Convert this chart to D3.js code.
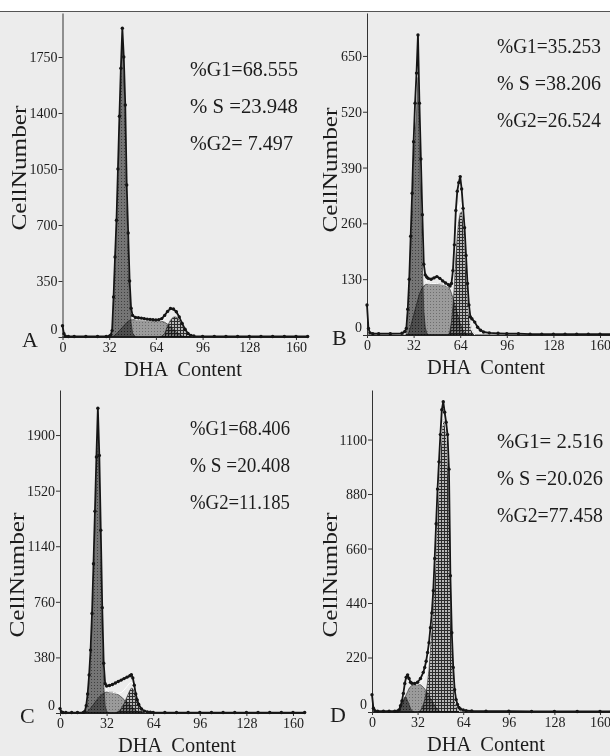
<!DOCTYPE html>
<html><head><meta charset="utf-8">
<script src="https://cdn.jsdelivr.net/npm/d3@7"></script>
<style>
html,body{margin:0;padding:0;background:#fff;}
svg{display:block;}
text{font-family:"Liberation Serif","Times New Roman",serif;fill:#1c1c1c;}
</style></head><body>
<svg id="c" width="610" height="756"></svg>
<script>
// ---------- DATA ----------
const xTicks = [0, 32, 64, 96, 128, 160];

// Panel A
const chA  = [0,1,2,4,8,16,24,30,32, 33,34,35,36,37,38,39,40,41,42,43,44,45,46,47,48, 50,52,54,56,58,60,62,64,66,68,70,72,74,76,78,80,82,84,86,88,90, 96,104,112,120,128,136,144,152,160,168];
const totA = [70,20,5,3,3,3,3,3,5, 12,40,250,500,730,1050,1380,1680,1930,1750,1450,950,650,350,180,135, 122,120,118,115,112,110,108,106,108,115,135,160,178,175,158,125,85,48,22,10,6, 4,4,3,3,3,3,3,3,3,3];
const g1A  = [0,0,0,0,0,0,0,0,0, 5,35,240,480,700,1010,1330,1620,1860,1670,1360,850,540,240,90,25, 0,0,0,0,0,0,0,0,0,0,0,0,0,0,0,0,0,0,0,0,0, 0,0,0,0,0,0,0,0,0,0];
const sA   = [0,0,0,0,0,0,0,0,0, 0,0,5,12,20,30,40,50,60,70,80,90,98,104,107,108, 108,108,107,106,105,104,103,102,100,98,92,80,64,46,30,16,6,0,0,0,0, 0,0,0,0,0,0,0,0,0,0];
const g2A  = [0,0,0,0,0,0,0,0,0, 0,0,0,0,0,0,0,0,0,0,0,0,0,0,0,0, 0,0,0,0,0,0,0,0,0,5,20,70,105,125,125,105,75,45,20,7,0, 0,0,0,0,0,0,0,0,0,0];
const yTicksA = [0,350,700,1050,1400,1750];
const statsA = ["%G1=68.555","% S =23.948","%G2= 7.497"];

// Panel B
const chB  = [0,1,2,4,8,16,24,26, 27,28,29,30,31,32,33,34,35,36,37,38,39,40,41,42, 44,46,48,50,52,54,56, 57,58,59,60,61,62,63,64,65,66,67,68,69,70,71,72, 74,76,78,80,84,90,96,104,112,120,128,136,144,152,160,168];
const totB = [70,15,5,3,3,3,4,8, 15,60,130,230,330,450,540,610,699,540,410,280,165,140,135,132, 130,133,136,132,126,121,117, 114,120,150,210,290,335,355,369,340,295,250,185,120,70,42,38, 30,18,11,7,5,4,3,3,2,2,2,2,2,2,2,2];
const g1B  = [0,0,0,0,0,0,0,0, 15,58,125,210,295,395,465,515,600,440,300,165,55,18,5,0, 0,0,0,0,0,0,0, 0,0,0,0,0,0,0,0,0,0,0,0,0,0,0,0, 0,0,0,0,0,0,0,0,0,0,0,0,0,0,0,0];
const sB   = [0,0,0,0,0,0,0,0, 0,0,8,20,33,45,58,70,83,95,103,110,114,117,118,119, 120,120,120,119,118,116,112, 106,97,86,74,62,50,38,27,18,10,5,2,0,0,0,0, 0,0,0,0,0,0,0,0,0,0,0,0,0,0,0,0];
const g2B  = [0,0,0,0,0,0,0,0, 0,0,0,0,0,0,0,0,0,0,0,0,0,0,0,0, 0,0,0,0,0,0,0, 10,30,65,115,180,230,265,283,287,265,220,165,100,52,25,10, 0,0,0,0,0,0,0,0,0,0,0,0,0,0,0,0];
const yTicksB = [0,130,260,390,520,650];
const statsB = ["%G1=35.253","% S =38.206","%G2=26.524"];

// Panel C
const chC  = [0,1,2,4,8,12,16, 17,18,19,20,21,22,23,24,25,26,27,28,29,30,31,32, 34,36,38,40,42,44,46,48, 49,50,51,52,53,54, 56,58,60,62,64, 72,80,88,96,104,112,120,128,136,144,152,160,168];
const totC = [30,8,3,3,3,3,4, 10,50,130,260,430,680,1020,1380,1750,2083,1760,1250,720,340,200,185, 188,195,205,215,225,235,245,255, 262,240,190,130,90,60, 28,13,8,5,4, 3,3,3,3,3,3,3,3,3,3,3,3,3];
const g1C  = [0,0,0,0,0,0,0, 5,40,115,235,395,630,955,1300,1655,1975,1645,1120,580,195,50,10, 0,0,0,0,0,0,0,0, 0,0,0,0,0,0, 0,0,0,0,0, 0,0,0,0,0,0,0,0,0,0,0,0,0];
const sC   = [0,0,0,0,0,0,0, 0,5,12,22,33,45,58,72,85,98,110,120,128,135,140,143, 145,143,136,125,110,92,72,52, 42,33,25,17,10,5, 0,0,0,0,0, 0,0,0,0,0,0,0,0,0,0,0,0,0];
const g2C  = [0,0,0,0,0,0,0, 0,0,0,0,0,0,0,0,0,0,0,0,0,0,0,0, 0,0,0,10,30,65,110,155, 170,165,140,105,75,50, 20,6,0,0,0, 0,0,0,0,0,0,0,0,0,0,0,0,0];
const yTicksC = [0,380,760,1140,1520,1900];
const statsC = ["%G1=68.406","% S =20.408","%G2=11.185"];

// Panel D
const chD  = [0,1,2,4,8,12,16,18, 19,20,21,22,23,24,25,26,27,28, 30,32,34,36, 37,38,39,40,41,42,43,44,45,46,47,48,49,50,51,52,53,54,55,56,57,58,59,60,61,62, 64,66,70,80,96,112,128,144,160,168];
const totD = [70,15,5,3,3,3,3,4, 8,25,45,75,115,140,150,135,120,116, 115,120,135,160, 180,205,240,280,340,400,490,620,760,900,1010,1120,1220,1253,1210,1170,1120,980,550,320,180,90,50,30,18,12, 8,5,4,3,3,2,2,2,2,2];
const g1D  = [0,0,0,0,0,0,0,0, 5,20,35,50,60,58,45,30,15,5, 0,0,0,0, 0,0,0,0,0,0,0,0,0,0,0,0,0,0,0,0,0,0,0,0,0,0,0,0,0,0, 0,0,0,0,0,0,0,0,0,0];
const sD   = [0,0,0,0,0,0,0,0, 5,15,27,40,55,70,82,95,102,108, 112,112,110,100, 93,85,75,65,55,45,35,25,17,10,5,0,0,0,0,0,0,0,0,0,0,0,0,0,0,0, 0,0,0,0,0,0,0,0,0,0];
const g2D  = [0,0,0,0,0,0,0,0, 0,0,0,0,0,0,0,0,0,0, 0,0,5,30, 50,80,120,170,250,330,430,540,680,820,950,1060,1150,1180,1170,1130,1060,900,520,280,140,60,30,15,5,0, 0,0,0,0,0,0,0,0,0,0];
const yTicksD = [0,220,440,660,880,1100];
const statsD = ["%G1= 2.516","% S =20.026","%G2=77.458"];

// ---------- LAYOUT ----------
const panels = [
  {L:"A", ch:chA, tot:totA, g1:g1A, s:sA, g2:g2A, yt:yTicksA, st:statsA, yMax:2025,
   x0:62.5, x160:296, base:337, top:13, sx:190, sy:76, sw:[108,108,103], lx:22, cx:26, cy:168, tx:183},
  {L:"B", ch:chB, tot:totB, g1:g1B, s:sB, g2:g2B, yt:yTicksB, st:statsB, yMax:750,
   x0:367, x160:600, base:335, top:13, sx:497, sy:53, sw:[104,104,104], lx:332, cx:337, cy:170, tx:486},
  {L:"C", ch:chC, tot:totC, g1:g1C, s:sC, g2:g2C, yt:yTicksC, st:statsC, yMax:2208,
   x0:60, x160:293, base:713, top:390, sx:190, sy:435, sw:[100,100,100], lx:20, cx:24, cy:575, tx:177},
  {L:"D", ch:chD, tot:totD, g1:g1D, s:sD, g2:g2D, yt:yTicksD, st:statsD, yMax:1300,
   x0:372, x160:600, base:712, top:390, sx:497, sy:448, sw:[106,106,106], lx:330, cx:337, cy:575, tx:486}
];

const svg = d3.select("#c");
const defs = svg.append("defs");
// stipple / hatch patterns
const p1 = defs.append("pattern").attr("id","pG1").attr("width",3).attr("height",3).attr("patternUnits","userSpaceOnUse");
p1.append("rect").attr("width",3).attr("height",3).attr("fill","#7e7e7e");
p1.append("rect").attr("x",1).attr("y",1).attr("width",1).attr("height",1).attr("fill","#444");
const p2 = defs.append("pattern").attr("id","pS").attr("width",3).attr("height",3).attr("patternUnits","userSpaceOnUse");
p2.append("rect").attr("width",3).attr("height",3).attr("fill","#a8a8a8");
p2.append("rect").attr("x",1).attr("y",1).attr("width",1).attr("height",1).attr("fill","#777");
const p3 = defs.append("pattern").attr("id","pG2").attr("width",3).attr("height",3).attr("patternUnits","userSpaceOnUse");
p3.append("rect").attr("width",3).attr("height",3).attr("fill","#c6c6c6");
p3.append("rect").attr("width",3).attr("height",1).attr("fill","#2e2e2e");
p3.append("rect").attr("width",1).attr("height",3).attr("fill","#2e2e2e");

// background
svg.append("rect").attr("width",610).attr("height",756).attr("fill","#ececec");

panels.forEach(p => {
  const k = (p.x160 - p.x0) / 160;
  const x = d3.scaleLinear().domain([0,168]).range([p.x0, p.x0 + 168*k]);
  const y = d3.scaleLinear().domain([0,p.yMax]).range([p.base, p.top]);
  const g = svg.append("g");

  const rows = p.ch.map((c,i) => ({c, t:p.tot[i], g1:p.g1[i], s:p.s[i], g2:p.g2[i]}));

  const area = key => d3.area().x(d => x(d.c)).y0(y(0)).y1(d => y(d[key]));
  const comps = g.append("g");
  [["s","url(#pS)"],["g2","url(#pG2)"],["g1","url(#pG1)"]].forEach(([key,fill]) => {
    comps.append("path").datum(rows).attr("d", area(key))
      .attr("fill", fill).attr("stroke","#3c3c3c").attr("stroke-width",0.7)
      .style("mix-blend-mode","multiply");
  });

  // model fit (white line)
  g.append("path").datum(rows)
    .attr("d", d3.line().x(d => x(d.c)).y(d => y(d.g1 + d.s + d.g2)))
    .attr("fill","none").attr("stroke","#fff").attr("stroke-width",1);

  // axes
  const ya = d3.axisLeft(y).tickValues(p.yt).tickFormat(d3.format("d"))
    .tickSize(4).tickSizeOuter(0).tickPadding(1);
  const yg = g.append("g").attr("transform",`translate(${p.x0},0)`).call(ya);
  yg.select(".domain").attr("stroke","#333").attr("stroke-width",1);
  yg.selectAll(".tick line").attr("stroke","#333");
  yg.selectAll(".tick text").attr("font-size",14).attr("fill","#222")
    .style("font-family","'Liberation Serif',serif")
    .attr("dy", d => d === 0 ? "-0.25em" : "0.32em");

  const xa = d3.axisBottom(x).tickValues(xTicks).tickFormat(d3.format("d"))
    .tickSize(3).tickSizeOuter(0).tickPadding(2);
  const xg = g.append("g").attr("transform",`translate(0,${p.base})`).call(xa);
  xg.select(".domain").attr("stroke","#222").attr("stroke-width",1.2);
  xg.selectAll(".tick line").attr("stroke","#333");
  xg.selectAll(".tick text").attr("font-size",14).attr("fill","#222")
    .style("font-family","'Liberation Serif',serif");

  // data histogram line with dots
  g.append("path").datum(rows)
    .attr("d", d3.line().x(d => x(d.c)).y(d => y(d.t)))
    .attr("fill","none").attr("stroke","#151515").attr("stroke-width",1.8).attr("stroke-linejoin","round");
  g.selectAll("circle.pt").data(rows).join("circle").attr("class","pt")
    .attr("cx", d => x(d.c)).attr("cy", d => y(d.t)).attr("r",1.7).attr("fill","#151515");

  // stats
  p.st.forEach((t,i) => {
    g.append("text").attr("x",p.sx).attr("y",p.sy + i*37)
      .attr("font-size",21).attr("textLength",p.sw[i]).attr("lengthAdjust","spacingAndGlyphs")
      .style("white-space","pre").text(t);
  });

  // panel letter
  g.append("text").attr("x",p.lx).attr("y",p.base+10).attr("font-size",22).text(p.L);

  // axis titles
  g.append("text").attr("x",p.tx).attr("y",p.base+39)
    .attr("text-anchor","middle").attr("font-size",22)
    .attr("textLength",118).attr("lengthAdjust","spacingAndGlyphs")
    .style("white-space","pre").text("DHA  Content");
  g.append("text").attr("transform",`translate(${p.cx},${p.cy}) rotate(-90)`)
    .attr("text-anchor","middle").attr("font-size",21)
    .attr("textLength",125).attr("lengthAdjust","spacingAndGlyphs")
    .text("CellNumber");
});

// scanned-page top edge
svg.append("rect").attr("width",610).attr("height",11).attr("fill","#fff");
svg.append("line").attr("x1",0).attr("x2",610).attr("y1",11.5).attr("y2",11.5)
  .attr("stroke","#555").attr("stroke-width",1);
</script>
</body></html>
